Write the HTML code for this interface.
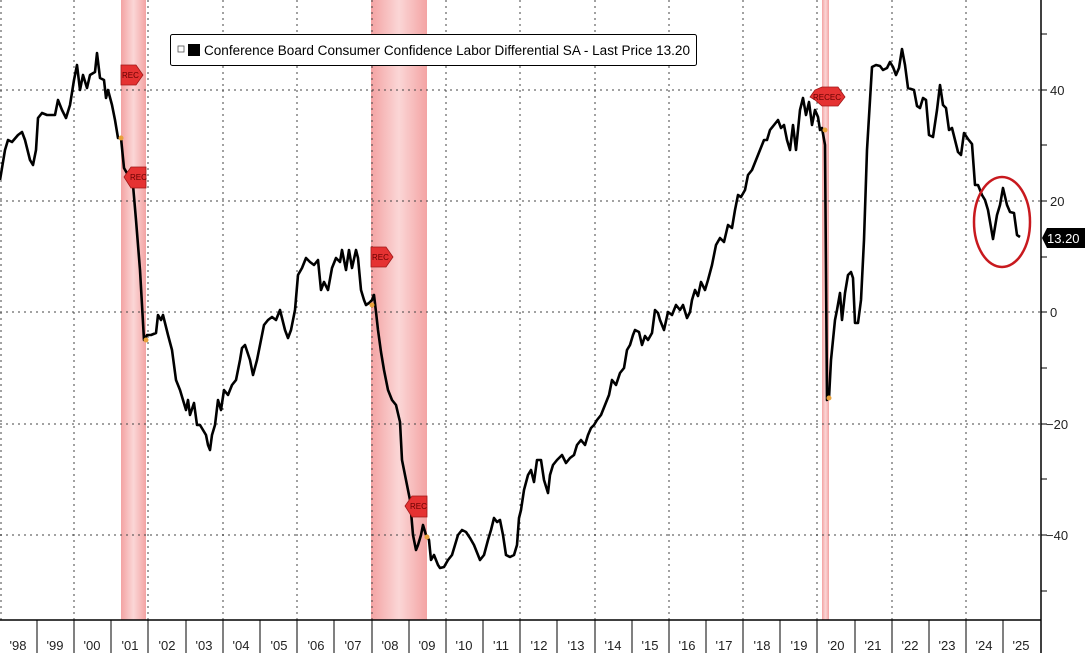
<!DOCTYPE html>
<html><head><style>
body{margin:0;background:#fff;}
svg{display:block;font-family:"Liberation Sans",sans-serif;}
</style></head><body>
<svg width="1085" height="653" viewBox="0 0 1085 653">
<defs>
<linearGradient id="rg" x1="0" x2="1">
<stop offset="0" stop-color="#f3a3a3"/><stop offset="0.5" stop-color="#fbd6d6"/><stop offset="1" stop-color="#f3a3a3"/>
</linearGradient>
</defs>
<rect x="121" y="0" width="25" height="620" fill="url(#rg)"/>
<rect x="371" y="0" width="56" height="620" fill="url(#rg)"/>
<rect x="822" y="0" width="7" height="620" fill="url(#rg)"/>
<g stroke="#444" stroke-width="1" stroke-dasharray="2,4">
<line x1="0" y1="90" x2="1041" y2="90"/><line x1="0" y1="201" x2="1041" y2="201"/>
<line x1="0" y1="312" x2="1041" y2="312"/><line x1="0" y1="424" x2="1041" y2="424"/>
<line x1="0" y1="535" x2="1041" y2="535"/>
<line x1="1" y1="0" x2="1" y2="620"/><line x1="74" y1="0" x2="74" y2="620"/>
<line x1="148" y1="0" x2="148" y2="620"/><line x1="223" y1="0" x2="223" y2="620"/>
<line x1="297" y1="0" x2="297" y2="620"/><line x1="372" y1="0" x2="372" y2="620"/>
<line x1="446" y1="0" x2="446" y2="620"/><line x1="520" y1="0" x2="520" y2="620"/>
<line x1="595" y1="0" x2="595" y2="620"/><line x1="669" y1="0" x2="669" y2="620"/>
<line x1="743" y1="0" x2="743" y2="620"/><line x1="817" y1="0" x2="817" y2="620"/>
<line x1="892" y1="0" x2="892" y2="620"/><line x1="966" y1="0" x2="966" y2="620"/>
</g>
<line x1="0" y1="620" x2="1041" y2="620" stroke="#000" stroke-width="1.5"/>
<line x1="1041" y1="0" x2="1041" y2="653" stroke="#000" stroke-width="1.5"/>
<g stroke="#000" stroke-width="1">
<line x1="1041" y1="34" x2="1047" y2="34"/><line x1="1041" y1="90" x2="1047" y2="90"/>
<line x1="1041" y1="145" x2="1047" y2="145"/><line x1="1041" y1="201" x2="1047" y2="201"/>
<line x1="1041" y1="257" x2="1047" y2="257"/><line x1="1041" y1="312" x2="1047" y2="312"/>
<line x1="1041" y1="368" x2="1047" y2="368"/><line x1="1041" y1="424" x2="1047" y2="424"/>
<line x1="1041" y1="479" x2="1047" y2="479"/><line x1="1041" y1="535" x2="1047" y2="535"/>
<line x1="1041" y1="591" x2="1047" y2="591"/>
<line x1="37" y1="620" x2="37" y2="653"/><line x1="74" y1="620" x2="74" y2="653"/><line x1="111" y1="620" x2="111" y2="653"/><line x1="148" y1="620" x2="148" y2="653"/><line x1="186" y1="620" x2="186" y2="653"/><line x1="223" y1="620" x2="223" y2="653"/><line x1="260" y1="620" x2="260" y2="653"/><line x1="297" y1="620" x2="297" y2="653"/><line x1="334" y1="620" x2="334" y2="653"/><line x1="372" y1="620" x2="372" y2="653"/><line x1="409" y1="620" x2="409" y2="653"/><line x1="446" y1="620" x2="446" y2="653"/><line x1="483" y1="620" x2="483" y2="653"/><line x1="520" y1="620" x2="520" y2="653"/><line x1="557" y1="620" x2="557" y2="653"/><line x1="595" y1="620" x2="595" y2="653"/><line x1="632" y1="620" x2="632" y2="653"/><line x1="669" y1="620" x2="669" y2="653"/><line x1="706" y1="620" x2="706" y2="653"/><line x1="743" y1="620" x2="743" y2="653"/><line x1="780" y1="620" x2="780" y2="653"/><line x1="817" y1="620" x2="817" y2="653"/><line x1="855" y1="620" x2="855" y2="653"/><line x1="892" y1="620" x2="892" y2="653"/><line x1="929" y1="620" x2="929" y2="653"/><line x1="966" y1="620" x2="966" y2="653"/><line x1="1003" y1="620" x2="1003" y2="653"/>
</g>
<g font-size="13" fill="#222">
<text x="1050" y="95">40</text><text x="1050" y="206">20</text><text x="1050" y="317">0</text>
<text x="1046" y="429">−20</text><text x="1046" y="540">−40</text>
</g>
<g font-size="13" fill="#222" text-anchor="middle">
<text x="18" y="650">'98</text><text x="55" y="650">'99</text><text x="92" y="650">'00</text><text x="130" y="650">'01</text><text x="167" y="650">'02</text><text x="204" y="650">'03</text><text x="241" y="650">'04</text><text x="279" y="650">'05</text><text x="316" y="650">'06</text><text x="353" y="650">'07</text><text x="390" y="650">'08</text><text x="427" y="650">'09</text><text x="464" y="650">'10</text><text x="501" y="650">'11</text><text x="539" y="650">'12</text><text x="576" y="650">'13</text><text x="613" y="650">'14</text><text x="650" y="650">'15</text><text x="687" y="650">'16</text><text x="724" y="650">'17</text><text x="762" y="650">'18</text><text x="799" y="650">'19</text><text x="836" y="650">'20</text><text x="873" y="650">'21</text><text x="910" y="650">'22</text><text x="947" y="650">'23</text><text x="984" y="650">'24</text><text x="1021" y="650">'25</text>
</g>
<polyline fill="none" stroke="#000" stroke-width="2.6" stroke-linejoin="round" points="0,180 5,150 8,140 12,142 18,135 22,132 25,140 30,160 33,165 36,150 38,118 42,113 47,115 55,115 58,100 62,110 66,118 70,105 74,80 77,65 80,90 83,75 87,88 90,75 95,72 97,53 100,78 104,80 106,98 108,90 112,105 115,120 118,138 121,138 124,168 128,175 133,185 136,220 140,270 144,340 147,335 151,335 156,333 158,315 161,320 163,315 168,335 172,350 176,380 180,390 183,400 186,410 188,400 190,415 194,403 197,425 200,425 203,430 206,435 208,445 210,450 212,435 215,425 218,400 221,410 224,390 228,395 232,385 236,380 240,360 242,348 245,345 250,360 253,375 257,360 261,340 264,325 268,320 272,317 276,320 280,310 285,330 288,338 291,330 295,310 298,275 302,268 306,258 310,262 314,265 318,260 321,290 324,282 328,290 332,268 336,258 340,262 342,250 346,270 349,250 352,268 356,250 358,258 361,290 364,300 366,305 369,303 372,300 374,295 376,312 378,330 381,352 384,370 388,390 392,400 396,405 400,422 402,460 406,480 410,500 413,535 416,550 418,545 421,535 423,525 426,535 429,540 431,560 434,555 438,565 440,568 444,567 448,560 452,555 455,545 458,535 462,530 466,532 470,538 474,545 476,550 480,560 484,555 488,540 491,530 494,518 497,522 500,520 503,535 506,555 510,557 514,555 517,545 519,518 521,510 524,490 528,475 531,470 534,482 537,460 541,460 544,480 548,493 550,475 553,465 557,460 562,455 566,463 570,458 574,455 577,445 581,440 585,445 588,435 591,428 594,425 597,420 601,415 603,410 605,405 609,395 612,380 616,385 620,373 624,368 627,350 630,345 633,335 635,330 639,332 642,345 645,336 648,340 652,333 655,310 658,313 660,320 664,330 668,312 672,315 676,305 680,310 683,305 687,318 690,312 692,300 695,290 698,296 701,282 705,290 708,280 712,265 716,245 720,238 724,242 728,225 732,228 735,210 738,195 741,197 745,190 748,175 752,170 756,160 760,150 764,140 767,140 770,130 774,125 778,120 781,128 784,125 787,140 790,150 793,125 796,150 800,110 803,98 806,115 809,102 812,125 815,110 818,117 820,130 822,128 825,145 827,400 829,398 831,360 833,340 835,320 837,310 840,293 842,320 845,293 848,275 851,272 853,278 855,323 858,323 861,300 864,240 867,150 870,100 872,67 876,65 880,66 883,70 887,68 890,62 893,67 896,75 899,68 902,49 905,65 908,88 911,89 914,90 917,106 920,108 923,98 926,100 929,135 933,137 937,110 940,85 943,105 946,108 949,130 952,128 955,140 958,152 961,155 964,133 968,139 972,144 975,185 978,185 982,195 985,200 988,210 993,239 997,215 1000,205 1003,188 1007,205 1010,212 1014,213 1017,235 1020,237"/>
<g fill="#e8a13a"><circle cx="121" cy="138" r="2.5"/><circle cx="146" cy="340" r="2.5"/><circle cx="372" cy="305" r="2.5"/><circle cx="427" cy="537" r="2.5"/><circle cx="825" cy="130" r="2.5"/><circle cx="829" cy="398" r="2.5"/></g>
<g fill="#e53232" stroke="#a01818" stroke-width="0.8" font-size="8">
<polygon points="121,65 136,65 143,75 136,85 121,85"/><text x="122" y="78" fill="#600" stroke="none">REC</text>
<polygon points="146,167 131,167 124,177 131,188 146,188"/><text x="130" y="180" fill="#600" stroke="none">REC</text>
<polygon points="371,247 386,247 393,257 386,267 371,267"/><text x="372" y="260" fill="#600" stroke="none">REC</text>
<polygon points="427,496 412,496 405,506 412,517 427,517"/><text x="410" y="509" fill="#600" stroke="none">REC</text>
<polygon points="815,90 822,87 838,87 845,97 838,106 822,106 815,100 810,97"/><text x="813" y="100" fill="#600" stroke="none">RECEC</text>
</g>
<ellipse cx="1002" cy="222" rx="28" ry="45" fill="none" stroke="#c8191e" stroke-width="2.5"/>
<polygon points="1042,238 1047,228 1085,228 1085,248 1047,248" fill="#000"/>
<text x="1047" y="243" font-size="13" fill="#fff">13.20</text>
<rect x="170.5" y="34.5" width="526" height="31" rx="2" fill="#fff" stroke="#000"/>
<rect x="178" y="46" width="6" height="6" fill="none" stroke="#555" stroke-width="0.8"/>
<rect x="188" y="44" width="12" height="12" fill="#000"/>
<text x="204" y="55" font-size="13.5" fill="#000" textLength="486" lengthAdjust="spacingAndGlyphs">Conference Board Consumer Confidence Labor Differential SA - Last Price 13.20</text>
</svg>
</body></html>
